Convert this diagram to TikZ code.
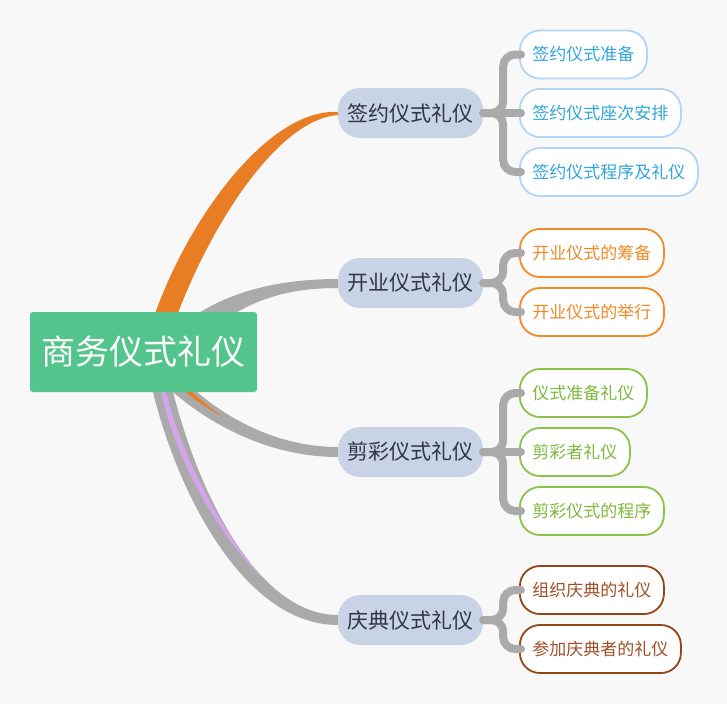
\documentclass[tikz,border=0pt]{standalone}
\usepackage{fontspec}
\setmainfont{Noto Sans CJK SC}
\usetikzlibrary{backgrounds,calc}
\definecolor{bgc}{RGB}{248,248,248}
\definecolor{rootc}{RGB}{82,196,140}
\definecolor{brc}{RGB}{200,211,230}
\definecolor{brtext}{RGB}{47,53,66}
\definecolor{grayc}{RGB}{170,170,170}
\definecolor{orangec}{RGB}{232,125,35}
\definecolor{purplec}{RGB}{212,165,232}
\definecolor{bluebd}{RGB}{179,212,245}
\definecolor{bluetx}{RGB}{50,165,220}
\definecolor{orangebd}{RGB}{243,140,40}
\definecolor{orangetx}{RGB}{240,138,40}
\definecolor{greenbd}{RGB}{139,195,74}
\definecolor{greentx}{RGB}{125,185,60}
\definecolor{brownbd}{RGB}{150,70,20}
\definecolor{browntx}{RGB}{160,80,40}
\begin{document}
\begin{tikzpicture}[x=1pt,y=-1pt,
  rootbox/.style={rectangle, rounded corners=3pt, fill=rootc, text=white, minimum width=227pt, minimum height=80pt, inner sep=0pt, font=\fontsize{34}{40}\selectfont},
  branchbox/.style={rectangle, rounded corners=22pt, fill=brc, text=brtext, minimum width=145pt, minimum height=50pt, inner sep=0pt, font=\fontsize{21}{25}\selectfont},
  leafbox/.style={rectangle, rounded corners=20pt, fill=white, line width=1.8pt, minimum height=48pt, inner xsep=12.5pt, inner ysep=0pt, anchor=west, font=\fontsize{17}{20}\selectfont},
  blueleaf/.style={leafbox, draw=bluebd, text=bluetx},
  orangeleaf/.style={leafbox, draw=orangebd, text=orangetx},
  greenleaf/.style={leafbox, draw=greenbd, text=greentx},
  brownleaf/.style={leafbox, draw=brownbd, text=browntx},
  conn/.style={draw=grayc, line width=8pt, line cap=round, rounded corners=12pt}
]
\useasboundingbox (0,0) rectangle (727,704);

% root
\node[rootbox] (root) at (143.5,352) {商务仪式礼仪};

% branches
\node[branchbox] (b1) at (410.5,113) {签约仪式礼仪};
\node[branchbox] (b2) at (410.5,283) {开业仪式礼仪};
\node[branchbox] (b3) at (410.5,452) {剪彩仪式礼仪};
\node[branchbox] (b4) at (410.5,620) {庆典仪式礼仪};

% leaves
\node[blueleaf] (l11) at (519,54.5) {签约仪式准备};
\node[blueleaf] (l12) at (519,113) {签约仪式座次安排};
\node[blueleaf] (l13) at (519,172) {签约仪式程序及礼仪};
\node[orangeleaf] (l21) at (519,253) {开业仪式的筹备};
\node[orangeleaf] (l22) at (519,312) {开业仪式的举行};
\node[greenleaf] (l31) at (519,393) {仪式准备礼仪};
\node[greenleaf] (l32) at (519,452) {剪彩者礼仪};
\node[greenleaf] (l33) at (519,511) {剪彩仪式的程序};
\node[brownleaf] (l41) at (519,590) {组织庆典的礼仪};
\node[brownleaf] (l42) at (519,649) {参加庆典者的礼仪};

% leaf connectors
\draw[conn] (b1.east) -- ++(20,0) |- ($(l11.west)+(2,0)$);
\draw[conn] (b1.east) -- ($(l12.west)+(2,0)$);
\draw[conn] (b1.east) -- ++(20,0) |- ($(l13.west)+(2,0)$);
\draw[conn] (b2.east) -- ++(20,0) |- ($(l21.west)+(2,0)$);
\draw[conn] (b2.east) -- ++(20,0) |- ($(l22.west)+(2,0)$);
\draw[conn] (b3.east) -- ++(20,0) |- ($(l31.west)+(2,0)$);
\draw[conn] (b3.east) -- ($(l32.west)+(2,0)$);
\draw[conn] (b3.east) -- ++(20,0) |- ($(l33.west)+(2,0)$);
\draw[conn] (b4.east) -- ++(20,0) |- ($(l41.west)+(2,0)$);
\draw[conn] (b4.east) -- ++(20,0) |- ($(l42.west)+(2,0)$);

\begin{scope}[on background layer]
\fill[bgc] (0,0) rectangle (727,704);
% root to b1 (orange, tapered)
\fill[orangec] (148,335) .. controls (180,228) and (266,108) .. ($(b1.west)+(0,-1)$)
  -- ($(b1.west)+(0,2)$) .. controls (274,120) and (203,237) .. (170,335) -- cycle;
% root to b2
\fill[grayc] (170,335) .. controls (215,293) and (275,279) .. ($(b2.west)+(0,-4)$)
  -- ($(b2.west)+(0,5)$) .. controls (278,288) and (235,305) .. (195,345) -- cycle;
% root to b3
\fill[grayc] (175,370) .. controls (205,405) and (265,447) .. ($(b3.west)+(0,-5)$)
  -- ($(b3.west)+(0,5)$) .. controls (260,457) and (195,415) .. (160,380) -- cycle;
% root to b4
\fill[grayc] (148,370) .. controls (170,480) and (240,625) .. ($(b4.west)+(0,5)$)
  -- ($(b4.west)+(0,-5)$) .. controls (252,615) and (190,475) .. (168,370) -- cycle;
% purple sliver
\fill[purplec] (161,392) .. controls (176,460) and (215,530) .. (262,578)
  .. controls (220,527) and (183,460) .. (166,392) -- cycle;
% orange sliver
\fill[orangec] (186,392) .. controls (200,404) and (212,411) .. (223,417)
  .. controls (211,408) and (200,400) .. (192,392) -- cycle;
\end{scope}
\end{tikzpicture}
\end{document}
